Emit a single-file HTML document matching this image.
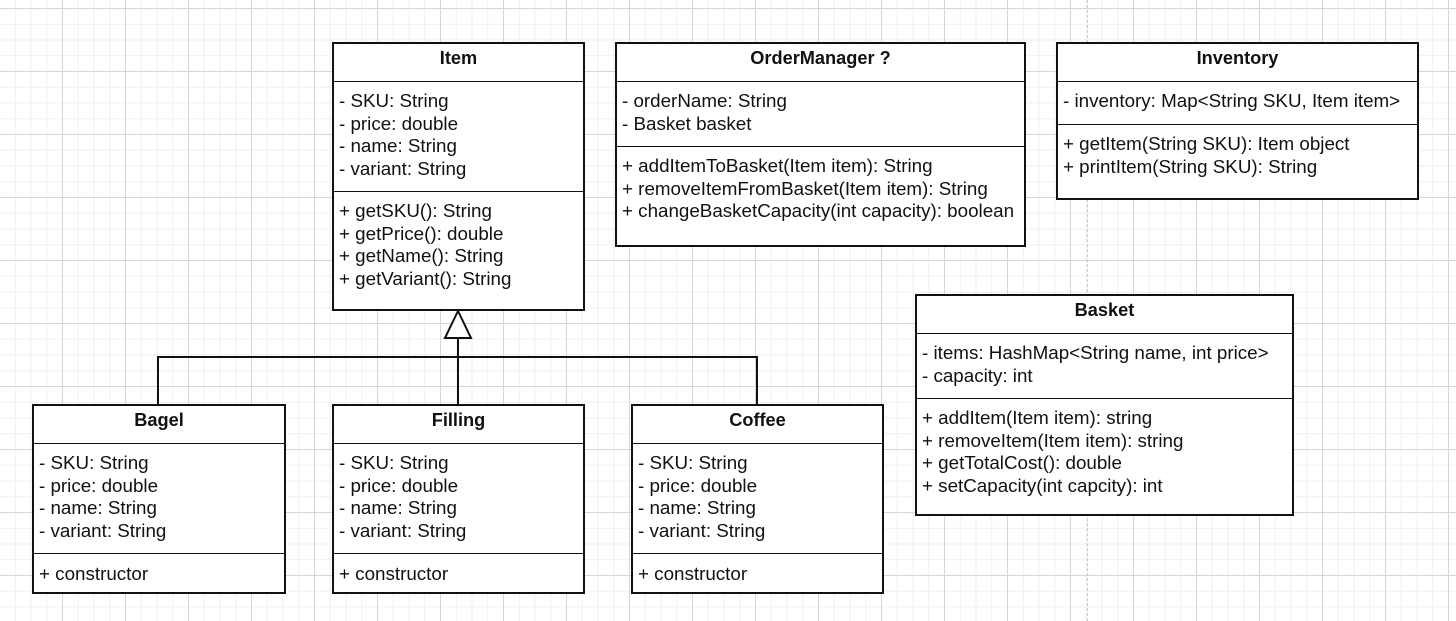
<!DOCTYPE html>
<html><head><style>
body{margin:0;width:1456px;height:621px;overflow:hidden;background:#fff;font-family:"Liberation Sans",Arial,sans-serif;position:relative;
background-image:linear-gradient(#d6d6d6 1px,transparent 1px),linear-gradient(90deg,#d6d6d6 1px,transparent 1px),linear-gradient(#efefef 1px,transparent 1px),linear-gradient(90deg,#efefef 1px,transparent 1px);
background-size:63px 63px,63px 63px,15.75px 15.75px,15.75px 15.75px;background-position:0 8px,62px 0,0 8px,62px 0;}
.b{position:absolute;border:2px solid #111;background:#fff;box-sizing:border-box;font-size:18.8px;color:#111}
.t{font-weight:bold;text-align:center;border-bottom:1.5px solid #111;box-sizing:border-box;padding-top:4px;font-size:18.2px}
.s{border-bottom:1.5px solid #111;box-sizing:border-box;padding:8px 0 0 5px;line-height:22.6px;white-space:nowrap}
.m{padding:8px 0 0 5px;line-height:22.6px;white-space:nowrap}
.dash{position:absolute;left:1087px;top:0;height:621px;border-left:1.5px dashed #c8c8c8}
</style></head><body>
<div class="dash"></div>
<svg style="position:absolute;left:0;top:0" width="1456" height="621">
<g stroke="#111" stroke-width="2" fill="none">
<path d="M458 338V404M158 404V357H757V404"/>
<polygon points="458,311 445,338 471,338" fill="#fff"/>
</g></svg>
<div class="b" style="left:332px;top:42px;width:253px;height:269px">
<div class="t" style="height:38px">Item</div>
<div class="s" style="height:110px">- SKU: String<br>- price: double<br>- name: String<br>- variant: String</div>
<div class="m">+ getSKU(): String<br>+ getPrice(): double<br>+ getName(): String<br>+ getVariant(): String</div></div>
<div class="b" style="left:615px;top:42px;width:411px;height:205px">
<div class="t" style="height:38px">OrderManager ?</div>
<div class="s" style="height:65px">- orderName: String<br>- Basket basket</div>
<div class="m">+ addItemToBasket(Item item): String<br>+ removeItemFromBasket(Item item): String<br>+ changeBasketCapacity(int capacity): boolean</div></div>
<div class="b" style="left:1056px;top:42px;width:363px;height:158px">
<div class="t" style="height:38px">Inventory</div>
<div class="s" style="height:43px">- inventory: Map&lt;String SKU, Item item&gt;</div>
<div class="m">+ getItem(String SKU): Item object<br>+ printItem(String SKU): String</div></div>
<div class="b" style="left:915px;top:294px;width:379px;height:222px">
<div class="t" style="height:38px">Basket</div>
<div class="s" style="height:65px">- items: HashMap&lt;String name, int price&gt;<br>- capacity: int</div>
<div class="m">+ addItem(Item item): string<br>+ removeItem(Item item): string<br>+ getTotalCost(): double<br>+ setCapacity(int capcity): int</div></div>
<div class="b" style="left:32px;top:404px;width:254px;height:190px">
<div class="t" style="height:38px">Bagel</div>
<div class="s" style="height:110px">- SKU: String<br>- price: double<br>- name: String<br>- variant: String</div>
<div class="m" style="padding-top:9px">+ constructor</div></div>
<div class="b" style="left:332px;top:404px;width:253px;height:190px">
<div class="t" style="height:38px">Filling</div>
<div class="s" style="height:110px">- SKU: String<br>- price: double<br>- name: String<br>- variant: String</div>
<div class="m" style="padding-top:9px">+ constructor</div></div>
<div class="b" style="left:631px;top:404px;width:253px;height:190px">
<div class="t" style="height:38px">Coffee</div>
<div class="s" style="height:110px">- SKU: String<br>- price: double<br>- name: String<br>- variant: String</div>
<div class="m" style="padding-top:9px">+ constructor</div></div>
</body></html>
